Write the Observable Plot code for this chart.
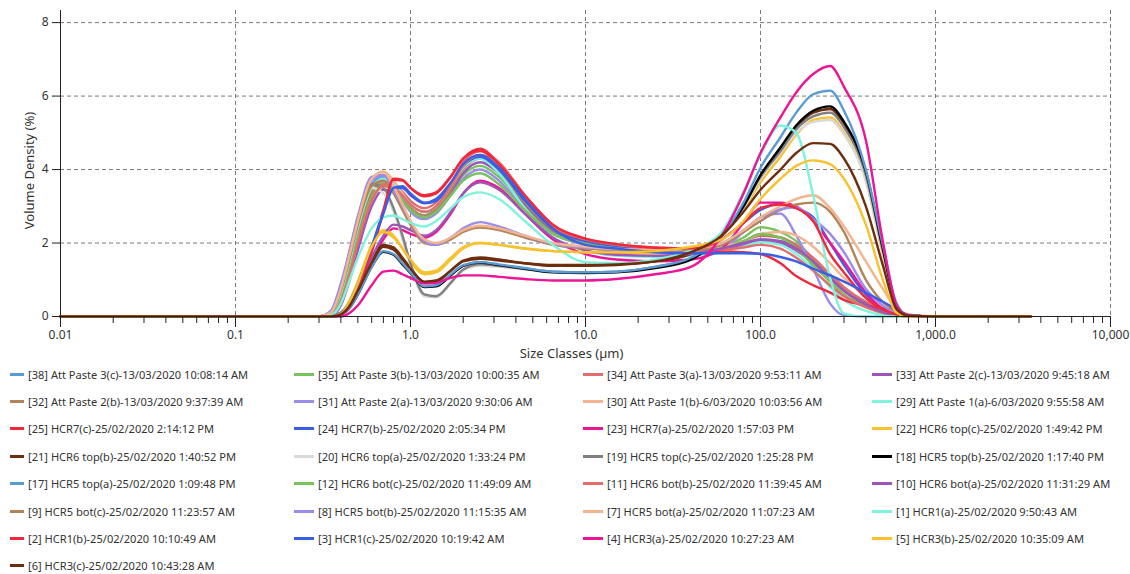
<!DOCTYPE html>
<html><head><meta charset="utf-8">
<script src="https://cdn.jsdelivr.net/npm/d3@7"></script>
<script src="https://cdn.jsdelivr.net/npm/@observablehq/plot@0.6"></script>
<style>
body{margin:0;background:#fff;font-family:"Segoe UI","Noto Sans","Open Sans",sans-serif;}
#legend{position:relative;height:214px;margin-top:-4px;}
.item{position:absolute;display:flex;align-items:center;font-size:11.1px;color:#333;white-space:nowrap;height:20px}
.sw{height:3px;margin-right:4px;flex:none}
</style></head><body>
<div id="chart"></div><div id="legend"></div>
<script>
// Size classes (µm)
const sizes = [0.01,0.3,0.35,0.4,0.45, 0.5,0.6,0.7,0.8,0.9, 1.0,1.2,1.4,1.7,2.0, 2.5,3.2,4.5,6.5,10, 15,25,40,60,80, 100,130,160,200,250, 300,400,500,600,700, 1000,3500];

// Volume density (%) per sample
const s38 = [0,0,0.1,0.7,1.6, 2.5,3.6,3.8,3.6,3.2, 2.95,2.75,2.95,3.5,4.05, 4.35,4.0,3.15,2.4,2.05, 1.9,1.82,1.8,1.85,1.95, 2.1,2.05,1.9,1.55,1.1, 0.72,0.35,0.15,0.05,0.01, 0,0];
const s35 = [0,0,0.05,0.5,1.3, 2.2,3.3,3.65,3.55,3.2, 2.95,2.75,2.9,3.4,3.85, 4.1,3.8,3.0,2.3,2.0, 1.88,1.8,1.8,1.9,2.15, 2.43,2.3,2.05,1.55,1.1, 0.72,0.36,0.17,0.07,0.01, 0,0];
const s34 = [0,0,0.03,0.4,1.2, 2.0,3.2,3.6,3.6,3.4, 3.15,2.95,3.1,3.6,4.2, 4.5,4.2,3.3,2.5,2.12, 1.97,1.88,1.85,1.9,2.05, 2.2,2.15,1.95,1.6,1.15, 0.8,0.4,0.2,0.08,0.02, 0,0];
const s33 = [0,0,0.02,0.3,1.0, 1.8,3.0,3.45,3.4,3.15, 2.9,2.7,2.85,3.35,3.9, 4.2,3.9,3.05,2.35,2.02, 1.88,1.8,1.78,1.83,1.93, 2.05,2.0,1.8,1.45,1.05, 0.7,0.35,0.15,0.05,0.01, 0,0];
const s32 = [0,0,0.05,0.55,1.4, 2.3,3.4,3.7,3.55,3.2, 2.95,2.75,2.9,3.45,4.0, 4.3,3.95,3.1,2.38,2.05, 1.9,1.83,1.82,1.88,2.05, 2.22,2.15,1.9,1.5,1.05, 0.7,0.33,0.14,0.05,0.01, 0,0];
const s31 = [0,0,0.12,0.8,1.7, 2.6,3.7,3.85,3.55,3.15, 2.85,2.65,2.8,3.3,3.75, 4.0,3.7,2.9,2.25,1.95, 1.8,1.72,1.72,1.85,2.3, 2.7,2.8,2.2,1.3,0.35, 0.03,0,0,0,0, 0,0];
const s30 = [0,0,0.1,0.75,1.7, 2.6,3.75,3.95,3.7,3.35, 3.05,2.85,3.0,3.55,4.1, 4.35,4.0,3.15,2.42,2.08, 1.93,1.85,1.83,1.9,2.05, 2.25,2.3,2.2,1.9,1.45, 1.05,0.55,0.25,0.1,0.02, 0,0];
const s29 = [0,0,0.07,0.6,1.5, 2.4,3.5,3.75,3.6,3.3, 3.05,2.85,3.0,3.55,4.05, 4.3,3.9,2.95,2.15,1.8, 1.65,1.62,1.65,1.75,1.9, 2.02,1.95,1.7,1.3,0.8, 0.45,0.15,0.04,0,0, 0,0];
const s25 = [0,0,0,0.1,0.35, 0.8,1.8,2.9,3.72,3.7, 3.5,3.27,3.35,3.8,4.3, 4.52,4.1,3.25,2.45,2.1, 1.95,1.85,1.8,1.77,1.75, 1.7,1.45,1.1,0.85,0.65, 0.45,0.3,0.22,0.18,0.05, 0,0];
const s24 = [0,0,0,0.1,0.4, 0.9,1.9,2.85,3.5,3.5, 3.3,3.08,3.15,3.6,4.1, 4.35,4.0,3.15,2.4,2.05, 1.9,1.83,1.85,2.1,2.55, 2.9,3.07,2.95,2.7,2.0, 1.4,0.6,0.2,0.05,0.01, 0,0];
const s23 = [0,0,0,0.05,0.25, 0.6,1.5,2.1,2.4,2.35, 2.25,2.15,2.3,2.8,3.35, 3.7,3.5,2.8,2.1,1.7, 1.55,1.5,1.55,1.85,2.55, 3.1,3.1,3.0,2.6,2.0, 1.5,0.65,0.2,0.04,0, 0,0];
const s22 = [0,0,0,0.1,0.45, 0.95,1.95,2.35,2.2,1.85, 1.5,1.15,1.2,1.55,1.85, 2.0,1.95,1.85,1.78,1.75, 1.72,1.72,1.85,2.2,2.9, 3.65,4.35,4.95,5.35,5.42, 5.0,3.7,1.7,0.25,0.02, 0,0];
const s21 = [0,0,0,0.06,0.3, 0.7,1.5,1.95,1.88,1.6, 1.32,0.93,0.95,1.25,1.52, 1.61,1.55,1.45,1.38,1.38, 1.4,1.5,1.7,2.25,3.0, 3.8,4.55,5.15,5.55,5.65, 5.25,3.9,1.85,0.3,0.02, 0,0];
const s20 = [0,0,0.15,0.85,1.85, 2.75,3.5,3.35,2.85,2.1, 1.4,0.55,0.52,0.9,1.25, 1.38,1.35,1.28,1.22,1.2, 1.22,1.35,1.58,2.15,2.95, 3.75,4.45,5.0,5.3,5.35, 4.95,3.7,1.75,0.3,0.02, 0,0];
const s19 = [0,0,0.12,0.8,1.8, 2.7,3.6,3.5,2.95,2.2, 1.45,0.6,0.55,0.92,1.28, 1.42,1.38,1.3,1.22,1.2, 1.22,1.35,1.58,2.2,3.0, 3.8,4.5,5.1,5.45,5.55, 5.15,3.85,1.8,0.3,0.02, 0,0];
const s18 = [0,0,0,0.05,0.25, 0.6,1.35,1.76,1.68,1.42, 1.18,0.8,0.82,1.12,1.38, 1.47,1.4,1.3,1.2,1.18, 1.2,1.32,1.55,2.2,3.0, 3.85,4.6,5.2,5.6,5.72, 5.3,3.95,1.85,0.3,0.02, 0,0];
const s17 = [0,0,0,0.05,0.25, 0.6,1.35,1.78,1.7,1.45, 1.2,0.82,0.85,1.15,1.4, 1.48,1.42,1.32,1.22,1.2, 1.22,1.35,1.6,2.2,3.1, 4.05,4.88,5.55,6.05,6.15, 5.6,4.0,1.95,0.35,0.02, 0,0];
const s12 = [0,0,0.04,0.45,1.25, 2.1,3.2,3.55,3.45,3.15, 2.9,2.7,2.85,3.3,3.7, 3.9,3.6,2.9,2.25,1.98, 1.85,1.78,1.78,1.85,2.05, 2.25,2.15,1.85,1.4,0.95, 0.6,0.28,0.1,0.03,0, 0,0];
const s11 = [0,0,0.03,0.4,1.15, 2.0,3.15,3.55,3.5,3.3, 3.05,2.85,3.0,3.55,4.1, 4.4,4.1,3.25,2.45,2.1, 1.95,1.85,1.8,1.82,1.88, 1.95,1.85,1.6,1.25,0.85, 0.55,0.25,0.1,0.03,0, 0,0];
const s10 = [0,0,0,0.05,0.3, 0.7,1.6,2.2,2.5,2.45, 2.35,2.2,2.35,2.85,3.35, 3.65,3.45,2.8,2.15,1.8, 1.68,1.65,1.7,1.85,2.0, 2.1,2.05,1.85,1.5,1.05, 0.7,0.32,0.12,0.03,0, 0,0];
const s9  = [0,0,0.1,0.7,1.6, 2.5,3.55,3.7,3.35,2.9, 2.5,2.0,1.95,2.1,2.3, 2.42,2.35,2.15,1.95,1.85, 1.8,1.78,1.8,1.95,2.3, 2.6,2.9,3.05,3.1,2.85, 2.3,1.0,0.4,0.15,0.03, 0,0];
const s8  = [0,0,0.15,0.9,1.8, 2.7,3.8,3.85,3.45,3.0, 2.6,2.05,1.95,2.15,2.4, 2.57,2.45,2.2,1.98,1.88, 1.82,1.8,1.85,2.0,2.35, 2.7,2.92,2.97,2.65,2.25, 1.75,0.75,0.3,0.08,0.01, 0,0];
const s7  = [0,0,0.1,0.75,1.7, 2.6,3.75,3.93,3.55,3.05, 2.6,2.1,2.0,2.15,2.35, 2.47,2.4,2.2,2.0,1.9, 1.84,1.82,1.85,2.0,2.35, 2.7,3.0,3.2,3.3,2.95, 2.45,1.5,0.75,0.2,0.03, 0,0];
const s1  = [0,0,0.03,0.35,1.0, 1.6,2.4,2.7,2.75,2.65, 2.55,2.45,2.6,2.95,3.25, 3.38,3.2,2.6,1.95,1.48, 1.45,1.55,1.8,2.3,3.4, 4.4,5.2,5.0,3.3,1.05, 0.08,0,0,0,0, 0,0];
const s2  = [0,0,0,0.08,0.3, 0.75,1.75,2.85,3.75,3.72, 3.5,3.3,3.38,3.82,4.3, 4.57,4.15,3.3,2.5,2.12, 1.97,1.87,1.85,2.1,2.55, 2.95,3.05,2.95,2.6,1.7, 1.2,0.5,0.2,0.05,0, 0,0];
const s3  = [0,0,0,0.1,0.4, 0.9,1.9,2.8,3.5,3.55, 3.35,3.1,3.2,3.65,4.15, 4.4,4.05,3.2,2.4,1.95, 1.85,1.75,1.72,1.72,1.72, 1.71,1.62,1.5,1.3,1.12, 0.95,0.65,0.4,0.2,0.03, 0,0];
const s4  = [0,0,0,0,0.1, 0.3,0.85,1.22,1.25,1.15, 1.05,0.9,0.92,1.05,1.12, 1.12,1.08,1.02,0.98,0.98, 1.02,1.15,1.35,2.2,3.35, 4.45,5.42,6.1,6.6,6.82, 6.25,4.8,2.05,0.3,0.02, 0,0];
const s5  = [0,0,0,0.08,0.4, 0.9,1.9,2.3,2.15,1.85, 1.55,1.2,1.25,1.6,1.88, 2.0,1.95,1.85,1.78,1.75, 1.75,1.78,1.9,2.1,2.6, 3.2,3.75,4.1,4.25,4.15, 3.75,2.5,1.0,0.1,0, 0,0];
const s6  = [0,0,0,0.06,0.3, 0.7,1.45,1.9,1.82,1.55, 1.3,0.95,0.98,1.25,1.5, 1.57,1.52,1.45,1.4,1.4, 1.42,1.5,1.75,2.2,2.85, 3.45,4.0,4.45,4.72,4.7, 4.3,3.0,1.4,0.2,0.02, 0,0];

const labels = [
  "[38] Att Paste 3(c)-13/03/2020 10:08:14 AM","[35] Att Paste 3(b)-13/03/2020 10:00:35 AM","[34] Att Paste 3(a)-13/03/2020 9:53:11 AM","[33] Att Paste 2(c)-13/03/2020 9:45:18 AM",
  "[32] Att Paste 2(b)-13/03/2020 9:37:39 AM","[31] Att Paste 2(a)-13/03/2020 9:30:06 AM","[30] Att Paste 1(b)-6/03/2020 10:03:56 AM","[29] Att Paste 1(a)-6/03/2020 9:55:58 AM",
  "[25] HCR7(c)-25/02/2020 2:14:12 PM","[24] HCR7(b)-25/02/2020 2:05:34 PM","[23] HCR7(a)-25/02/2020 1:57:03 PM","[22] HCR6 top(c)-25/02/2020 1:49:42 PM",
  "[21] HCR6 top(b)-25/02/2020 1:40:52 PM","[20] HCR6 top(a)-25/02/2020 1:33:24 PM","[19] HCR5 top(c)-25/02/2020 1:25:28 PM","[18] HCR5 top(b)-25/02/2020 1:17:40 PM",
  "[17] HCR5 top(a)-25/02/2020 1:09:48 PM","[12] HCR6 bot(c)-25/02/2020 11:49:09 AM","[11] HCR6 bot(b)-25/02/2020 11:39:45 AM","[10] HCR6 bot(a)-25/02/2020 11:31:29 AM",
  "[9] HCR5 bot(c)-25/02/2020 11:23:57 AM","[8] HCR5 bot(b)-25/02/2020 11:15:35 AM","[7] HCR5 bot(a)-25/02/2020 11:07:23 AM","[1] HCR1(a)-25/02/2020 9:50:43 AM",
  "[2] HCR1(b)-25/02/2020 10:10:49 AM","[3] HCR1(c)-25/02/2020 10:19:42 AM","[4] HCR3(a)-25/02/2020 10:27:23 AM","[5] HCR3(b)-25/02/2020 10:35:09 AM",
  "[6] HCR3(c)-25/02/2020 10:43:28 AM"
];
const values = [s38,s35,s34,s33,s32,s31,s30,s29,s25,s24,s23,s22,s21,s20,s19,s18,s17,s12,s11,s10,s9,s8,s7,s1,s2,s3,s4,s5,s6];
const palette = ["#5b9bd5","#78c35e","#e46c6c","#9e55b8","#b3845a","#9b8cec","#f4b48f","#7ff3dc","#f0283c","#3a5fe6","#ee1496","#f8c22e","#6e2e0e","#d9d9d9","#808080","#000000"];
const colors = labels.map((d, i) => palette[i % palette.length]);

const xTicks = [0.01, 0.1, 1, 10, 100, 1000, 10000];
const xTickLabels = ["0.01", "0.1", "1.0", "10.0", "100.0", "1,000.0", "10,000"];
const yTicks = [0, 2, 4, 6, 8];
const xTitle = "Size Classes (µm)";
const yTitle = "Volume Density (%)";

values.forEach((v, i) => { if (v.length !== sizes.length) throw new Error("length mismatch " + labels[i] + " " + v.length); });

const rows = values.flatMap((v, i) => v.map((y, j) => ({name: labels[i], color: colors[i], size: sizes[j], value: y})));
const minorTicks = xTicks.slice(0, -1).flatMap(d => [2,3,4,5,6,7,8,9].map(k => d * k));

const font = '"Segoe UI","Noto Sans","Open Sans",sans-serif';
const chart = Plot.plot({
  width: 1130, height: 364,
  marginLeft: 60, marginRight: 20, marginTop: 10, marginBottom: 48,
  style: {fontFamily: font, fontSize: "12px", color: "#333", background: "#fff"},
  x: {type: "log", domain: [0.01, 10000]},
  y: {domain: [0, 8.33]},
  color: {type: "identity"},
  marks: [
    Plot.gridY(yTicks.slice(1), {stroke: "#7a7a7a", strokeOpacity: 1, strokeDasharray: "4,3"}),
    Plot.gridX(xTicks.slice(1), {stroke: "#7a7a7a", strokeOpacity: 1, strokeDasharray: "4,3"}),
    Plot.line(rows, {x: "size", y: "value", z: "name", stroke: "color", strokeWidth: 2.4, curve: "monotone-x"}),
    Plot.ruleY([0], {stroke: "#222"}),
    Plot.ruleX([0.01], {stroke: "#222"}),
    Plot.axisX(minorTicks, {tickSize: 7, tickFormat: () => "", label: null, stroke: "#222"}),
    Plot.axisX(xTicks, {tickSize: 11, tickPadding: 3, tickFormat: d => xTickLabels[xTicks.indexOf(d)], label: null, stroke: "#222", fill: "#333"}),
    Plot.axisY(yTicks, {tickSize: 8, tickPadding: 4, tickFormat: d => String(d), label: null, stroke: "#222", fill: "#333"}),
    Plot.text([yTitle], {frameAnchor: "left", textAnchor: "middle", rotate: -90, dx: -31, dy: 7, fill: "#333", fontSize: 13}),
    Plot.text([xTitle], {frameAnchor: "bottom", textAnchor: "middle", dx: -14, dy: 41, fill: "#333", fontSize: 13})
  ]
});
document.getElementById("chart").appendChild(chart);

const colText = [28, 318, 607, 896];
const swatchW = [14, 20, 20, 20];
const legend = d3.select("#legend");
labels.forEach((lab, i) => {
  const r = Math.floor(i / 4), c = i % 4;
  const item = legend.append("div").attr("class", "item")
    .style("left", (colText[c] - swatchW[c] - 4) + "px").style("top", (4 + r * 27.4) + "px");
  item.append("div").attr("class", "sw").style("width", swatchW[c] + "px").style("background", colors[i]);
  item.append("span").text(lab);
});
</script></body></html>
